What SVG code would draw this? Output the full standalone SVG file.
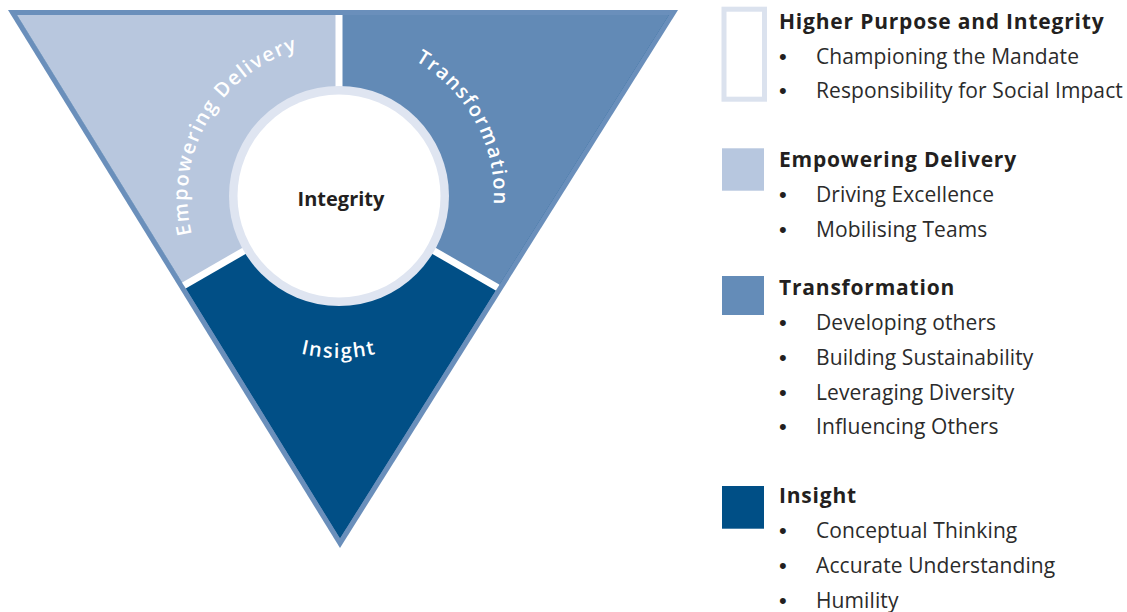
<svg xmlns="http://www.w3.org/2000/svg" width="1127" height="612" viewBox="0 0 1127 612">
<style>
.hd{font-family:"Open Sans","Liberation Sans",sans-serif;font-weight:700;font-size:21px;fill:#231f20;letter-spacing:0.8px}
.ig{font-family:"Open Sans","Liberation Sans",sans-serif;font-weight:700;font-size:20px;fill:#231f20}
.it{font-family:"Open Sans","Liberation Sans",sans-serif;font-weight:400;font-size:21px;fill:#2b2b2b;letter-spacing:0.1px}
.bl{font-family:"Liberation Sans",Arial,sans-serif;font-size:22px;fill:#231f20}
.arc{font-family:"Open Sans","Liberation Sans",sans-serif;font-weight:600;font-size:20px;fill:#ffffff;letter-spacing:1.6px}
.div{stroke:#ffffff;stroke-width:7}
</style>
<defs>
<clipPath id="inner"><polygon points="17,15 669,15 340,538.5"/></clipPath>
<path id="pEmp" d="M 221.8 294.35 A 154 154 0 0 1 365.57 45.32"/>
<path id="pTra" d="M 317.43 42.5 A 155 155 0 0 1 455.98 297.69"/>
<path id="pIns" d="M 198.7 277 A 162 162 0 0 0 479.3 277"/>
</defs>
<g id="triangle">
<polygon points="8,10 678,10 340,548" fill="#6a8fbb"/>
<g clip-path="url(#inner)">
<polygon id="insight-sector" points="17,15 669,15 340,538.5" fill="#014f86"/>
<polygon id="empowering-sector" points="339,196 -527,696 -1000,696 -1000,-1000 339,-1000" fill="#b8c7de"/>
<polygon id="transformation-sector" points="339,196 339,-1000 2000,-1000 2000,696 1205,696" fill="#628ab6"/>
<g id="connectors">
<line class="div" x1="339" y1="196" x2="339" y2="-100"/>
<line class="div" x1="339" y1="196" x2="-527" y2="696"/>
<line class="div" x1="339" y1="196" x2="1205" y2="696"/>
</g>
</g>
<text class="arc"><textPath href="#pEmp" startOffset="50%" text-anchor="middle">Empowering Delivery</textPath></text>
<text class="arc"><textPath href="#pTra" startOffset="50%" text-anchor="middle">Transformation</textPath></text>
<text class="arc"><textPath href="#pIns" startOffset="50%" text-anchor="middle">Insight</textPath></text>
</g>
<g id="integrity">
<circle cx="339" cy="196" r="110" fill="#dfe5f1"/>
<circle cx="339" cy="196" r="101.5" fill="#ffffff"/>
<text x="341" y="206" text-anchor="middle" class="ig">Integrity</text>
</g>
<g id="legend-higher">
<rect x="724" y="9.2" width="40.5" height="90" fill="none" stroke="#dbe2ee" stroke-width="5"/>
<text x="779" y="29" class="hd">Higher Purpose and Integrity</text>
<text x="779" y="64" class="bl">•</text><text x="816" y="64" class="it">Championing the Mandate</text>
<text x="779" y="98" class="bl">•</text><text x="816" y="98" class="it">Responsibility for Social Impact</text>
</g>
<g id="legend-empowering">
<rect x="722" y="148.3" width="42" height="42.4" fill="#b7c7df"/>
<text x="779" y="166.7" class="hd">Empowering Delivery</text>
<text x="779" y="201.7" class="bl">•</text><text x="816" y="201.7" class="it">Driving Excellence</text>
<text x="779" y="236.7" class="bl">•</text><text x="816" y="236.7" class="it">Mobilising Teams</text>
</g>
<g id="legend-transformation">
<rect x="722" y="276" width="42" height="39" fill="#648cb8"/>
<text x="779" y="295" class="hd">Transformation</text>
<text x="779" y="330" class="bl">•</text><text x="816" y="330" class="it">Developing others</text>
<text x="779" y="365" class="bl">•</text><text x="816" y="365" class="it">Building Sustainability</text>
<text x="779" y="400" class="bl">•</text><text x="816" y="400" class="it">Leveraging Diversity</text>
<text x="779" y="434" class="bl">•</text><text x="816" y="434" class="it">Influencing Others</text>
</g>
<g id="legend-insight">
<rect x="722" y="486" width="42" height="42.7" fill="#004f86"/>
<text x="779" y="503" class="hd">Insight</text>
<text x="779" y="538" class="bl">•</text><text x="816" y="538" class="it">Conceptual Thinking</text>
<text x="779" y="573" class="bl">•</text><text x="816" y="573" class="it">Accurate Understanding</text>
<text x="779" y="608" class="bl">•</text><text x="816" y="608" class="it">Humility</text>
</g>
</svg>
